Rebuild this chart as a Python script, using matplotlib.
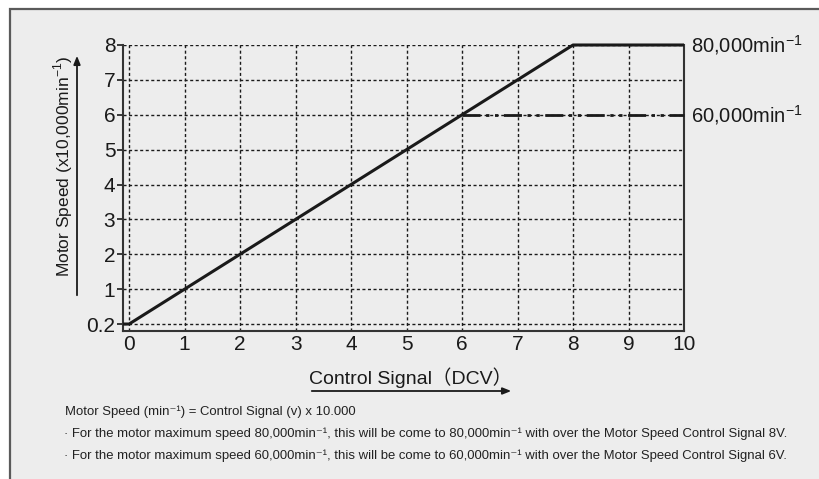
import numpy as np
import matplotlib
matplotlib.use("Agg")
import matplotlib.pyplot as plt
from matplotlib.patches import Rectangle, FancyArrowPatch
from matplotlib import font_manager

# --- data -------------------------------------------------------------
signal_v = [-0.11, 0, 8, 10]          # control signal (DCV)
speed_80k = [0.2, 0.2, 8, 8]          # motor speed, x10,000 min^-1
signal_60k = [6, 10]
speed_60k = [6, 6]
y_ticks = [0.2, 1, 2, 3, 4, 5, 6, 7, 8]
y_tick_labels = ["0.2", "1", "2", "3", "4", "5", "6", "7", "8"]
x_ticks = [0, 1, 2, 3, 4, 5, 6, 7, 8, 9, 10]
end_labels = ["80,000min$^{-1}$", "60,000min$^{-1}$"]
end_values = [8, 6]

W, H = 819, 479
BG = "#ededed"
INK = "#1a1a1a"

installed = {f.name for f in font_manager.fontManager.ttflist}
main_font = ["Liberation Sans", "Noto Sans CJK JP", "DejaVu Sans"]
narrow = "Liberation Sans Narrow" if "Liberation Sans Narrow" in installed else "Liberation Sans"
note_font = [narrow, "DejaVu Sans"]
plt.rcParams["font.family"] = main_font
plt.rcParams["mathtext.fontset"] = "custom"
plt.rcParams["mathtext.rm"] = "Liberation Sans"

fig = plt.figure(figsize=(W / 100, H / 100), dpi=100)
fig.patch.set_facecolor("white")

# panel frame (open to the right and bottom)
fig.patches.append(Rectangle((10 / W, -0.2), 1.2, 1 - 9 / H + 0.2,
                             transform=fig.transFigure, facecolor=BG,
                             edgecolor="#5a5a5a", linewidth=1.6, zorder=-5))

ax = fig.add_axes([123 / W, 1 - 331 / H, (684 - 123) / W, (331 - 45) / H])
ax.set_zorder(2)
ax.set_facecolor(BG)

# speed axis: 0.2 sits at the bottom grid line, linear from 1 upwards
v_pts = np.array([-10.0, 0.2, 1.0, 100.0])
p_pts = np.array([-10.2, 0.0, 1.0, 100.0])
ax.set_yscale("function", functions=(lambda v: np.interp(v, v_pts, p_pts),
                                     lambda p: np.interp(p, p_pts, v_pts)))

grid_kw = dict(color=INK, linewidth=1.0, linestyle=(0, (2.2, 1.8)), zorder=1)
for x in x_ticks[:-1]:
    ax.axvline(x, **grid_kw)
for y in y_ticks:
    ax.axhline(y, **grid_kw)

ax.plot(signal_v, speed_80k, color=INK, linewidth=2.2, solid_capstyle="butt",
        zorder=3, clip_on=False)
ax.plot(signal_60k, speed_60k, color=INK, linewidth=2.0,
        dashes=(6.5, 2.0, 1.2, 2.0, 1.2, 2.0), zorder=3, clip_on=False)

ax.set_xlim(-0.11, 10)
ax.set_ylim(0, 8)
ax.set_xticks(x_ticks)
ax.set_xticklabels([str(x) for x in x_ticks])
ax.set_yticks(y_ticks)
ax.set_yticklabels(y_tick_labels)
ax.yaxis.set_minor_locator(matplotlib.ticker.NullLocator())
ax.tick_params(axis="x", length=0, pad=3, labelsize=15, colors=INK)
ax.tick_params(axis="y", length=4.5, width=1.2, pad=1, labelsize=15, colors=INK)

for side in ("left", "bottom", "right"):
    ax.spines[side].set_color("#333333")
    ax.spines[side].set_linewidth(1.5)
ax.spines["top"].set_visible(False)

for lbl, val in zip(end_labels, end_values):
    ax.annotate(lbl, xy=(10, val), xytext=(5, 0), textcoords="offset points",
                va="center", ha="left", fontsize=14.5, color=INK,
                annotation_clip=False)

# axis titles with direction arrows
fig.text(63 / W, 1 - 166 / H, "Motor Speed (x10,000min$^{-1}$)", rotation=90,
         ha="center", va="center", fontsize=12.5, color=INK)
fig.patches.append(FancyArrowPatch(
    (77 / W, 1 - 298 / H), (77 / W, 1 - 53 / H), transform=fig.transFigure,
    arrowstyle="-|>,head_length=5,head_width=2", color=INK, linewidth=1.3,
    mutation_scale=1))

fig.text(309 / W, 1 - 378 / H, "Control Signal（DCV）", ha="left", va="center",
         fontsize=14, color=INK)
fig.patches.append(FancyArrowPatch(
    (309 / W, 1 - 391 / H), (514 / W, 1 - 391 / H), transform=fig.transFigure,
    arrowstyle="-|>,head_length=5,head_width=2", color=INK, linewidth=1.3,
    mutation_scale=1))

notes = [
    "Motor Speed (min⁻¹) = Control Signal (v) x 10.000",
    "· For the motor maximum speed 80,000min⁻¹, this will be come to 80,000min⁻¹ "
    "with over the Motor Speed Control Signal 8V.",
    "· For the motor maximum speed 60,000min⁻¹, this will be come to 60,000min⁻¹ "
    "with over the Motor Speed Control Signal 6V.",
]
note_x = [65, 64, 64]
note_y = [412, 434, 456]
note_w = [292, 727, 727]     # target widths of the note lines in pixels
renderer = fig.canvas.get_renderer()
for t, x, y, w in zip(notes, note_x, note_y, note_w):
    txt = fig.text(x / W, 1 - y / H, t, ha="left", va="center", fontsize=10,
                   color="#222222", family=note_font)
    cur = txt.get_window_extent(renderer).width
    txt.set_fontsize(10 * w / cur)

fig.savefig("out.png", dpi=100, facecolor=fig.get_facecolor())
